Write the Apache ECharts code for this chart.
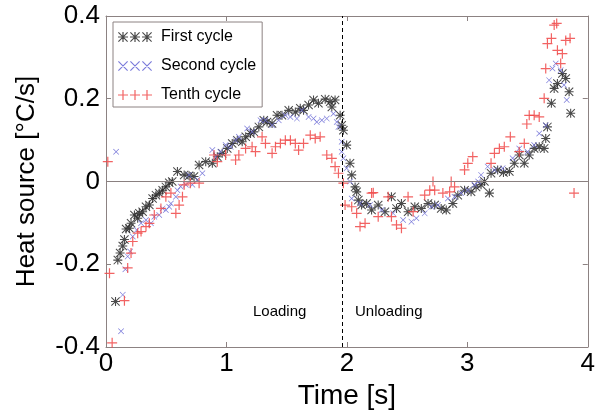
<!DOCTYPE html>
<html>
<head>
<meta charset="utf-8">
<script src="https://cdn.jsdelivr.net/npm/echarts@6/dist/echarts.min.js"></script>
<style>html,body{margin:0;padding:0;background:#fff;}#c{width:598px;height:416px;}</style>
</head>
<body>
<div id="c"></div>
<script>
// ---- data (time [s], heat source [°C/s]) ----
const seriesNames = ['First cycle', 'Second cycle', 'Tenth cycle'];
const xTicks = [0, 1, 2, 3, 4];
const yTicks = [-0.4, -0.2, 0, 0.2, 0.4];
const loadingEnd = 1.957;
const phaseLabels = ['Loading', 'Unloading'];

const firstCycle = [
[0.079,-0.29],[0.098,-0.19],[0.117,-0.173],[0.139,-0.156],[0.153,-0.14],[0.167,-0.115],[0.194,-0.113],[0.208,-0.101],
[0.236,-0.081],[0.263,-0.089],[0.277,-0.077],[0.304,-0.073],[0.332,-0.061],[0.36,-0.057],[0.387,-0.041],[0.415,-0.033],
[0.442,-0.028],[0.47,-0.021],[0.497,-0.013],[0.525,-0.003],[0.55,0.0],[0.593,0.024],[0.649,0.016],[0.69,0.014],
[0.731,0.012],[0.773,0.04],[0.828,0.048],[0.883,0.044],[0.924,0.06],[0.965,0.068],[1.007,0.08],[1.048,0.092],
[1.09,0.1],[1.131,0.096],[1.16,0.108],[1.2,0.116],[1.227,0.12],[1.269,0.132],[1.31,0.148],[1.337,0.144],
[1.379,0.14],[1.42,0.16],[1.461,0.16],[1.517,0.172],[1.572,0.168],[1.613,0.177],[1.64,0.172],[1.682,0.185],
[1.723,0.197],[1.764,0.189],[1.82,0.199],[1.861,0.193],[1.875,0.18],[1.902,0.197],[1.944,0.16],[1.957,0.136],
[1.971,0.124],[1.998,0.088],[2.026,0.044],[2.04,0.016],[2.068,-0.013],[2.081,-0.025],[2.095,-0.045],[2.122,-0.057],
[2.164,-0.053],[2.205,-0.069],[2.26,-0.057],[2.316,-0.073],[2.37,-0.037],[2.412,-0.065],[2.453,-0.053],[2.508,-0.073],
[2.564,-0.061],[2.618,-0.065],[2.674,-0.053],[2.729,-0.057],[2.783,-0.065],[2.825,-0.069],[2.88,-0.053],[2.921,-0.033],
[2.977,-0.021],[3.031,-0.025],[3.073,-0.013],[3.114,-0.008],[3.142,0.0],[3.183,-0.028],[3.197,0.02],[3.252,0.028],
[3.3,0.022],[3.349,0.024],[3.39,0.044],[3.431,0.064],[3.473,0.044],[3.514,0.064],[3.555,0.08],[3.597,0.084],
[3.638,0.08],[3.651,0.104],[3.665,0.132],[3.698,0.189],[3.721,0.225],[3.748,0.237],[3.789,0.261],[3.817,0.249],
[3.845,0.217],[3.858,0.165]
];

const secondCycle = [
[0.084,0.072],[0.125,-0.362],[0.139,-0.274],[0.161,-0.212],[0.18,-0.181],[0.2,-0.169],[0.222,-0.133],[0.255,-0.117],
[0.291,-0.101],[0.332,-0.093],[0.373,-0.101],[0.401,-0.085],[0.442,-0.081],[0.47,-0.065],[0.497,-0.069],[0.525,-0.061],
[0.539,-0.053],[0.58,-0.037],[0.593,-0.021],[0.62,-0.012],[0.663,-0.008],[0.69,0.016],[0.717,-0.008],[0.759,0.004],
[0.8,0.02],[0.883,0.076],[0.911,0.06],[0.95,0.072],[0.993,0.088],[1.035,0.084],[1.076,0.1],[1.103,0.108],
[1.172,0.128],[1.213,0.12],[1.283,0.148],[1.324,0.148],[1.379,0.136],[1.434,0.148],[1.489,0.16],[1.531,0.156],
[1.585,0.152],[1.626,0.172],[1.682,0.156],[1.723,0.152],[1.75,0.144],[1.792,0.148],[1.833,0.152],[1.888,0.164],
[1.916,0.144],[1.93,0.132],[1.957,0.096],[1.957,0.072],[1.971,0.056],[1.998,0.032],[2.026,0.0],[2.04,-0.041],
[2.109,-0.053],[2.192,-0.057],[2.288,-0.069],[2.384,-0.077],[2.467,-0.093],[2.536,-0.097],[2.577,-0.089],[2.646,-0.077],
[2.701,-0.061],[2.756,-0.057],[2.839,-0.041],[2.894,-0.037],[2.949,-0.028],[3.004,-0.021],[3.059,-0.008],[3.09,0.0],
[3.114,0.016],[3.169,0.036],[3.225,0.028],[3.293,0.032],[3.376,0.056],[3.431,0.08],[3.5,0.072],[3.555,0.088],
[3.597,0.116],[3.651,0.136],[3.679,0.245],[3.707,0.273],[3.734,0.285],[3.775,0.269],[3.803,0.233],[3.825,0.197]
];

const tenthCycle = [
[0.015,0.048],[0.029,-0.222],[0.051,-0.39],[0.153,-0.288],[0.18,-0.209],[0.208,-0.173],[0.222,-0.145],[0.263,-0.125],
[0.291,-0.121],[0.332,-0.109],[0.36,-0.101],[0.401,-0.081],[0.456,-0.065],[0.497,-0.037],[0.539,-0.028],[0.58,-0.077],
[0.607,-0.057],[0.635,-0.037],[0.649,-0.008],[0.7,-0.004],[0.773,-0.004],[0.897,0.064],[0.924,0.048],[0.993,0.064],
[1.076,0.052],[1.103,0.064],[1.159,0.08],[1.213,0.084],[1.241,0.072],[1.296,0.108],[1.324,0.092],[1.379,0.068],
[1.407,0.084],[1.448,0.092],[1.489,0.1],[1.531,0.1],[1.572,0.092],[1.599,0.076],[1.64,0.092],[1.696,0.112],
[1.737,0.104],[1.778,0.108],[1.833,0.064],[1.875,0.056],[1.902,0.036],[1.93,0.02],[1.971,-0.004],[1.985,-0.057],
[2.04,-0.061],[2.081,-0.077],[2.109,-0.109],[2.151,-0.101],[2.205,-0.028],[2.219,-0.027],[2.26,-0.085],[2.343,-0.037],
[2.37,-0.085],[2.412,-0.105],[2.453,-0.113],[2.508,-0.037],[2.55,-0.073],[2.646,-0.033],[2.688,-0.021],[2.715,0.0],
[2.729,-0.021],[2.797,-0.028],[2.853,-0.025],[2.866,0.0],[2.894,-0.013],[2.977,0.028],[3.004,0.044],[3.045,0.06],
[3.197,0.044],[3.225,0.068],[3.266,0.08],[3.307,0.084],[3.357,0.108],[3.431,0.072],[3.473,0.092],[3.494,0.139],
[3.514,0.16],[3.555,0.16],[3.597,0.156],[3.638,0.201],[3.651,0.273],[3.665,0.333],[3.698,0.346],[3.721,0.378],
[3.742,0.382],[3.748,0.317],[3.775,0.285],[3.789,0.309],[3.817,0.341],[3.853,0.346],[3.886,-0.028]
];

// ---- glyph paths ----
function plusG(o){return `M${o+4.4},0H${o+5.6}V4.4H${o+10}V5.6H${o+5.6}V10H${o+4.4}V5.6H${o}V4.4H${o+4.4}Z`;}
function xG(o){return `M${o},0.8L${o+0.8},0L${o+10},9.2L${o+9.2},10Z M${o+9.2},0L${o+10},0.8L${o+0.8},10L${o},9.2Z`;}
function starG(o){return plusG(o)+' '+xG(o);}
function triple(f){return 'path://'+f(0)+' '+f(12)+' '+f(24);}

const FONT = 'Liberation Sans, Arial, sans-serif';
const axisCol = '#8c8282';
const colors = ['#2a2a2a', '#6b6bd6', '#f04848'];

const chart = echarts.init(document.getElementById('c'), null, {renderer:'canvas'});

function mkX(pos, showLabel){
  return {
    type:'value', min:xTicks[0], max:xTicks[xTicks.length-1], interval:1, position:pos,
    axisLine:{show:true, onZero:false, lineStyle:{color:axisCol, width:1}},
    axisTick:{show:true, inside:true, length:5, lineStyle:{color:axisCol}},
    axisLabel:{show:showLabel, fontSize:26, color:'#000', fontFamily:FONT, margin:4},
    splitLine:{show:false},
    name: showLabel ? 'Time [s]' : '', nameLocation:'middle', nameGap:34,
    nameTextStyle:{fontSize:28, color:'#000', fontFamily:FONT}
  };
}
function mkY(pos, showLabel){
  return {
    type:'value', min:yTicks[0], max:yTicks[yTicks.length-1], interval:0.2, position:pos,
    axisLine:{show:true, onZero:false, lineStyle:{color:axisCol, width:1}},
    axisTick:{show:true, inside:true, length:5, lineStyle:{color:axisCol}},
    axisLabel:{show:showLabel, fontSize:26, color:'#000', fontFamily:FONT, margin:6,
      formatter: v => String(Math.round(v*10)/10)},
    splitLine:{show:false},
    name: showLabel ? 'Heat source [°C/s]' : '', nameLocation:'middle', nameGap:66, nameRotate:90,
    nameTextStyle:{fontSize:26, color:'#000', fontFamily:FONT}
  };
}

const option = {
  animation:false,
  backgroundColor:'#fff',
  grid:{left:106, right:8, top:16, bottom:69, containLabel:false},
  xAxis:[mkX('bottom', true), mkX('top', false)],
  yAxis:[mkY('left', true), mkY('right', false)],
  legend:{
    orient:'vertical', left:113, top:22,
    itemWidth:34, itemHeight:10, itemGap:11,
    padding:[6,6,3,5],
    borderColor:axisCol, borderWidth:1, backgroundColor:'#fff',
    textStyle:{fontSize:16, color:'#000', fontFamily:FONT, lineHeight:18, padding:[0,0,0,4]},
    selectedMode:false,
    data:[
      {name:seriesNames[0], icon:triple(starG)},
      {name:seriesNames[1], icon:triple(xG)},
      {name:seriesNames[2], icon:triple(plusG)}
    ]
  },
  series:[
    {
      name:seriesNames[0], type:'scatter', data:firstCycle,
      symbol:'path://'+starG(0), symbolSize:9,
      itemStyle:{color:colors[0], opacity:0.85}, z:3,
      markLine:{
        silent:true, symbol:['none','none'], label:{show:false},
        data:[
          {xAxis:loadingEnd, lineStyle:{color:'#000', type:[4,3], width:1}},
          {yAxis:0, lineStyle:{color:'#8a8080', type:'solid', width:1}}
        ]
      }
    },
    {
      name:seriesNames[1], type:'scatter', data:secondCycle,
      symbol:'path://'+xG(0), symbolSize:6,
      itemStyle:{color:colors[1], opacity:0.9}, z:3
    },
    {
      name:seriesNames[2], type:'scatter', data:tenthCycle,
      symbol:'path://'+plusG(0), symbolSize:10,
      itemStyle:{color:colors[2], opacity:0.85}, z:3
    }
  ],
  graphic:[
    {type:'text', left:253, top:304, style:{text:phaseLabels[0], fontSize:15, fill:'#000', font:'15px Liberation Sans'}},
    {type:'text', left:355, top:304, style:{text:phaseLabels[1], fontSize:15, fill:'#000', font:'15px Liberation Sans'}}
  ]
};
chart.setOption(option);
</script>
</body>
</html>
